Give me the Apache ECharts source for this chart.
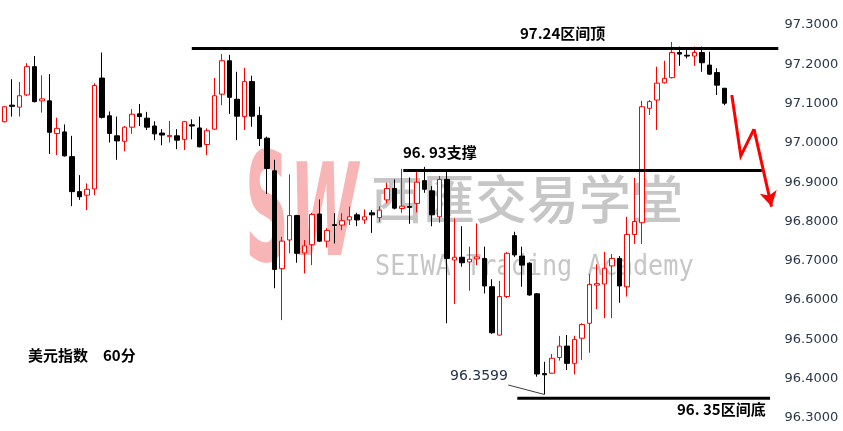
<!DOCTYPE html>
<html>
<head>
<meta charset="utf-8">
<script src="https://cdn.jsdelivr.net/npm/echarts@6/dist/echarts.min.js"></script>
<style>
  html, body { margin: 0; padding: 0; background: #ffffff; }
  #chart { width: 843px; height: 431px; }
</style>
</head>
<body>
<div id="chart"></div>
<script>
// US Dollar Index, 60-minute bars: open / close / low / high per bar
const open = [
  97.054, 97.096, 97.091, 97.122, 97.194, 97.107, 97.107, 97.024, 97.028, 96.965,
  96.876, 96.867, 96.883, 97.165, 97.069, 97.018, 97.004, 97.040, 97.074, 97.063,
  97.043, 97.025, 97.016, 97.018, 97.009, 97.046, 97.038, 96.996, 97.035, 97.124,
  97.209, 97.111, 97.067, 97.156, 97.070, 97.012, 96.929, 96.680, 96.753, 96.815,
  96.720, 96.741, 96.819, 96.750, 96.792, 96.791, 96.804, 96.817, 96.804, 96.822,
  96.810, 96.855, 96.884, 96.833, 96.838, 96.846, 96.904, 96.878, 96.812, 96.907,
  96.702, 96.709, 96.697, 96.705, 96.706, 96.634, 96.511, 96.609, 96.764, 96.712,
  96.694, 96.616, 96.413, 96.414, 96.454, 96.483, 96.439, 96.503, 96.541, 96.638,
  96.641, 96.687, 96.706, 96.634, 96.767, 96.797, 97.088, 97.109, 97.153, 97.166,
  97.230, 97.223, 97.221, 97.230, 97.198, 97.179, 97.139
];
const close = [
  97.092, 97.093, 97.120, 97.194, 97.105, 97.112, 97.027, 97.037, 96.967, 96.876,
  96.863, 96.882, 97.146, 97.065, 97.024, 97.005, 97.040, 97.073, 97.067, 97.040,
  97.023, 97.020, 97.019, 97.007, 97.054, 97.043, 96.990, 97.031, 97.120, 97.209,
  97.116, 97.068, 97.156, 97.068, 97.011, 96.935, 96.678, 96.750, 96.815, 96.719,
  96.738, 96.818, 96.750, 96.777, 96.790, 96.802, 96.812, 96.804, 96.812, 96.817,
  96.829, 96.884, 96.834, 96.839, 96.836, 96.900, 96.882, 96.817, 96.907, 96.706,
  96.709, 96.695, 96.704, 96.710, 96.636, 96.517, 96.609, 96.719, 96.715, 96.689,
  96.613, 96.412, 96.410, 96.452, 96.483, 96.439, 96.500, 96.538, 96.640, 96.642,
  96.681, 96.706, 96.636, 96.767, 96.800, 97.092, 97.105, 97.152, 97.164, 97.230,
  97.226, 97.221, 97.230, 97.204, 97.175, 97.147, 97.101
];
const low = [
  97.052, 97.067, 97.067, 97.119, 97.103, 97.077, 96.972, 96.969, 96.965, 96.839,
  96.855, 96.829, 96.867, 97.062, 97.001, 96.957, 96.979, 97.023, 97.043, 97.033,
  97.007, 96.994, 97.001, 96.984, 96.982, 97.009, 96.989, 96.969, 97.033, 97.096,
  97.074, 97.007, 97.033, 97.041, 96.992, 96.870, 96.630, 96.549, 96.719, 96.695,
  96.668, 96.689, 96.748, 96.734, 96.744, 96.778, 96.791, 96.788, 96.794, 96.771,
  96.799, 96.846, 96.831, 96.822, 96.794, 96.823, 96.873, 96.788, 96.797, 96.541,
  96.590, 96.685, 96.624, 96.689, 96.617, 96.514, 96.510, 96.605, 96.710, 96.634,
  96.611, 96.405, 96.3599, 96.413, 96.446, 96.422, 96.411, 96.448, 96.466, 96.577,
  96.554, 96.554, 96.593, 96.609, 96.743, 96.743, 97.071, 97.033, 97.151, 97.164,
  97.196, 97.215, 97.196, 97.181, 97.173, 97.122, 97.096
];
const high = [
  97.094, 97.162, 97.155, 97.203, 97.221, 97.172, 97.175, 97.064, 97.047, 97.018,
  96.918, 96.897, 97.152, 97.230, 97.080, 97.067, 97.043, 97.086, 97.099, 97.079,
  97.055, 97.035, 97.056, 97.035, 97.056, 97.060, 97.067, 97.037, 97.165, 97.226,
  97.224, 97.181, 97.191, 97.171, 97.092, 97.016, 96.957, 96.761, 96.920, 96.817,
  96.753, 96.822, 96.856, 96.783, 96.821, 96.821, 96.838, 96.822, 96.831, 96.829,
  96.839, 96.899, 96.907, 96.934, 96.912, 96.929, 96.939, 96.890, 96.916, 96.927,
  96.808, 96.788, 96.736, 96.795, 96.736, 96.653, 96.649, 96.722, 96.774, 96.736,
  96.696, 96.618, 96.443, 96.463, 96.509, 96.511, 96.509, 96.541, 96.666, 96.691,
  96.723, 96.717, 96.712, 96.812, 96.911, 97.107, 97.109, 97.194, 97.209, 97.257,
  97.245, 97.241, 97.245, 97.245, 97.232, 97.190, 97.140
];

// price scale (right axis)
const priceMin = 96.3;
const priceMax = 97.3;
const priceStep = 0.1;

// bar slots on the time axis (the tail is left empty for the projection)
const slotCount = 104;

// drawn levels: price, first slot, last slot
const levelPrice = [97.24, 96.93, 96.35];
const levelFrom  = [25.0, 53.2, 68.4];
const levelTo    = [103.2, 101.0, 102.1];
const levelText  = ['97.24区间顶', '96. 93支撑', '96. 35区间底'];

// projected path after the last bar, and its arrow leg
const projPath = [[97.0, 97.122], [98.2, 96.967], [99.96, 97.035]];
const projArrow = [[99.96, 97.035], [102.3, 96.838]];

// swing low marker
const swingLowText = '96.3599';
const swingLowLeader = [[67.2, 96.384], [72, 96.3599]];

const titleText = '美元指数　60分';

const slots = Array.from({ length: slotCount }, (_, i) => String(i));
const candles = open.map((o, i) => [o, close[i], low[i], high[i]]);

const cjkFont = '"Noto Sans CJK SC", "Noto Sans", sans-serif';

const series = [{
  type: 'candlestick',
  xAxisIndex: 0,
  yAxisIndex: 0,
  data: candles,
  barWidth: 5,
  z: 3,
  itemStyle: {
    color: '#ffffff',
    borderColor: '#ff0000',
    color0: '#000000',
    borderColor0: '#000000',
    borderWidth: 1
  }
}];

levelPrice.forEach((p, k) => {
  series.push({
    type: 'line',
    xAxisIndex: 1,
    yAxisIndex: 0,
    data: [[levelFrom[k], p], [levelTo[k], p]],
    symbol: 'none',
    silent: true,
    z: 4,
    lineStyle: { color: '#000000', width: 3 }
  });
});

series.push({
  type: 'line',
  xAxisIndex: 1,
  yAxisIndex: 0,
  data: projPath,
  symbol: 'none',
  z: 5,
  lineStyle: { color: '#ff0000', width: 3, join: 'miter' },
  markLine: {
    silent: true,
    symbol: ['none', 'arrow'],
    symbolSize: [13, 15],
    label: { show: false },
    lineStyle: { color: '#ff0000', width: 3, type: 'solid' },
    data: [[{ coord: projArrow[0] }, { coord: projArrow[1] }]]
  }
});

series.push({
  type: 'line',
  xAxisIndex: 1,
  yAxisIndex: 0,
  data: swingLowLeader,
  symbol: 'none',
  z: 4,
  lineStyle: { color: '#3c3c3c', width: 1 }
});

function label(text, x, y, font, fill) {
  return {
    type: 'text', x: x, y: y, z: 100,
    style: { text: text, font: font, fill: fill, align: 'left', verticalAlign: 'middle' }
  };
}

const chart = echarts.init(document.getElementById('chart'), null, { renderer: 'canvas' });
chart.setOption({
  animation: false,
  backgroundColor: '#ffffff',
  grid: { left: 0.55, right: 62.45, top: 25, bottom: 13, containLabel: false },
  xAxis: [
    { type: 'category', data: slots, boundaryGap: true, show: false },
    { type: 'value', min: -0.5, max: slotCount - 0.5, show: false }
  ],
  yAxis: {
    type: 'value',
    position: 'right',
    min: priceMin,
    max: priceMax,
    interval: priceStep,
    axisLine: { show: false },
    axisTick: { show: false },
    splitLine: { show: false },
    axisLabel: {
      margin: 4,
      color: '#2b3648',
      fontFamily: 'DejaVu Sans',
      fontSize: 13,
      formatter: v => v.toFixed(4)
    }
  },
  graphic: [
    // watermark
    {
      type: 'text', x: 245, y: 222, z: 0, scaleX: 0.4,
      style: { text: 'S', font: 'bold 152px "DejaVu Sans"', fill: 'rgba(240,90,90,0.45)', align: 'left', verticalAlign: 'middle' }
    },
    {
      type: 'text', x: 290, y: 222, z: 0, scaleX: 0.48,
      style: { text: 'W', font: 'italic bold 128px "DejaVu Sans"', fill: 'rgba(240,90,90,0.45)', align: 'left', verticalAlign: 'middle' }
    },
    {
      type: 'text', x: 371, y: 199, z: 0,
      style: { text: '西匯交易学堂', font: '500 52px ' + cjkFont, fill: 'rgba(160,160,160,0.6)', align: 'left', verticalAlign: 'middle' }
    },
    {
      type: 'text', x: 375, y: 268, z: 0, scaleX: 0.9,
      style: { text: 'SEIWA Trading Academy', font: '28px "DejaVu Sans Mono"', fill: 'rgba(160,160,160,0.6)', align: 'left', verticalAlign: 'middle' }
    },
    // annotations
    label(levelText[0], 520, 33, 'bold 15px ' + cjkFont, '#000000'),
    label(levelText[1], 403, 152, 'bold 15px ' + cjkFont, '#000000'),
    label(levelText[2], 677, 409, 'bold 15px ' + cjkFont, '#000000'),
    label(titleText, 28, 355, 'bold 15px ' + cjkFont, '#000000'),
    label(swingLowText, 450, 376, '14px "DejaVu Sans"', '#24324a')
  ],
  series: series
});
</script>
</body>
</html>
